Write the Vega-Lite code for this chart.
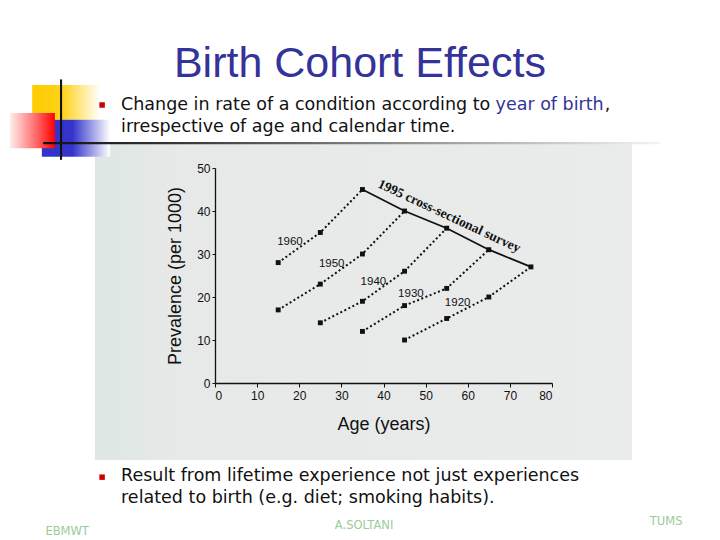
{
  "$schema": "https://vega.github.io/schema/vega-lite/v6.json",
  "width": 337,
  "height": 215,
  "autosize": {"type": "none"},
  "padding": {"left": 215, "top": 168, "right": 168, "bottom": 157},
  "background": "white",
  "view": {"stroke": null},
  "config": {"font": "Liberation Sans"},
  "encoding": {
    "x": {"field": "x", "type": "quantitative", "scale": {"domain": [0, 80], "nice": false},
      "axis": {"title": "Age (years)", "zindex": 1, "values": [0, 10, 20, 30, 40, 50, 60, 70, 80], "grid": false, "domainColor": "#111111", "domainWidth": 1.3, "tickColor": "#111111", "tickSize": 4, "labelFontSize": 12, "labelColor": "#111111", "labelPadding": 3, "titleFontSize": 18, "titleFontWeight": "normal", "titleColor": "#111111", "titlePadding": 14}},
    "y": {"field": "y", "type": "quantitative", "scale": {"domain": [0, 50], "nice": false},
      "axis": {"title": "Prevalence (per 1000)", "zindex": 1, "values": [0, 10, 20, 30, 40, 50], "grid": false, "domainColor": "#111111", "domainWidth": 1.3, "tickColor": "#111111", "tickSize": 3, "labelFontSize": 12, "labelColor": "#111111", "labelPadding": 2, "titleFontSize": 18, "titleFontWeight": "normal", "titleColor": "#111111", "titlePadding": 12}}
  },
  "layer": [
    {
      "data": {"values": [{"x": -28.5, "x2": 99.0, "y": 55.6, "y2": -17.9}]},
      "mark": {"type": "rect", "fill": {"gradient": "linear", "x1": 0, "y1": 0, "x2": 1, "y2": 0, "stops": [{"offset": 0, "color": "#dde7e3"}, {"offset": 0.15, "color": "#e7e9e8"}, {"offset": 1, "color": "#eaebeb"}]}},
      "encoding": {"x2": {"field": "x2"}, "y2": {"field": "y2"}}
    },
    {
      "data": {"values": [{"x": -43.4, "x2": -27.3, "y": 69.3, "y2": 61.2}]},
      "mark": {"type": "rect", "fill": {"gradient": "linear", "x1": 0, "y1": 0, "x2": 1, "y2": 0, "stops": [{"offset": 0, "color": "#ffcc00"}, {"offset": 0.45, "color": "#ffd21a"}, {"offset": 1, "color": "#ffffff"}]}},
      "encoding": {"x2": {"field": "x2"}, "y2": {"field": "y2"}}
    },
    {
      "data": {"values": [{"x": -41.1, "x2": -24.9, "y": 61.2, "y2": 52.6}]},
      "mark": {"type": "rect", "fill": {"gradient": "linear", "x1": 0, "y1": 0, "x2": 1, "y2": 0, "stops": [{"offset": 0, "color": "#3333cc"}, {"offset": 0.45, "color": "#3535cc"}, {"offset": 1, "color": "#ffffff"}]}},
      "encoding": {"x2": {"field": "x2"}, "y2": {"field": "y2"}}
    },
    {
      "data": {"values": [{"x": -48.7, "x2": -38.0, "y": 62.8, "y2": 54.6}]},
      "mark": {"type": "rect", "fill": {"gradient": "linear", "x1": 0, "y1": 0, "x2": 1, "y2": 0, "stops": [{"offset": 0, "color": "#ffeeee"}, {"offset": 0.6, "color": "#ff6666"}, {"offset": 1, "color": "#ff0000"}]}},
      "encoding": {"x2": {"field": "x2"}, "y2": {"field": "y2"}}
    },
    {
      "data": {"values": [{"x": -36.8, "x2": -36.3, "y": 70.6, "y2": 51.9}]},
      "mark": {"type": "rect", "fill": "#111111"},
      "encoding": {"x2": {"field": "x2"}, "y2": {"field": "y2"}}
    },
    {
      "data": {"values": [{"x": -40.8, "x2": 105.6, "y": 56.05, "y2": 55.55}]},
      "mark": {"type": "rect", "fill": {"gradient": "linear", "x1": 0, "y1": 0, "x2": 1, "y2": 0, "stops": [{"offset": 0, "color": "#111111"}, {"offset": 0.2, "color": "#333333"}, {"offset": 1, "color": "#f4f4f4"}]}},
      "encoding": {"x2": {"field": "x2"}, "y2": {"field": "y2"}}
    },
    {
      "data": {"values": [
        {"cohort": "1960", "x": 15, "y": 28}, {"cohort": "1960", "x": 25, "y": 35}, {"cohort": "1960", "x": 35, "y": 45},
        {"cohort": "1950", "x": 15, "y": 17}, {"cohort": "1950", "x": 25, "y": 23}, {"cohort": "1950", "x": 35, "y": 30}, {"cohort": "1950", "x": 45, "y": 40},
        {"cohort": "1940", "x": 25, "y": 14}, {"cohort": "1940", "x": 35, "y": 19}, {"cohort": "1940", "x": 45, "y": 26}, {"cohort": "1940", "x": 55, "y": 36},
        {"cohort": "1930", "x": 35, "y": 12}, {"cohort": "1930", "x": 45, "y": 18}, {"cohort": "1930", "x": 55, "y": 22}, {"cohort": "1930", "x": 65, "y": 31},
        {"cohort": "1920", "x": 45, "y": 10}, {"cohort": "1920", "x": 55, "y": 15}, {"cohort": "1920", "x": 65, "y": 20}, {"cohort": "1920", "x": 75, "y": 27}
      ]},
      "layer": [
        {
          "mark": {"type": "line", "color": "#111111", "strokeWidth": 2, "strokeDash": [2, 2.5]},
          "encoding": {"detail": {"field": "cohort"}, "order": {"field": "x"}}
        },
        {
          "mark": {"type": "square", "color": "#111111", "filled": true, "size": 24, "opacity": 1}
        }
      ]
    },
    {
      "data": {"values": [
        {"x": 35, "y": 45}, {"x": 45, "y": 40}, {"x": 55, "y": 36}, {"x": 65, "y": 31}, {"x": 75, "y": 27}
      ]},
      "mark": {"type": "line", "color": "#111111", "strokeWidth": 1.8}
    },
    {
      "data": {"values": [
        {"t": "1960", "x": 17.8, "y": 32.9}, {"t": "1950", "x": 27.7, "y": 27.7}, {"t": "1940", "x": 37.6, "y": 23.6}, {"t": "1930", "x": 46.5, "y": 20.8}, {"t": "1920", "x": 57.6, "y": 18.6}
      ]},
      "mark": {"type": "text", "fontSize": 11.5, "color": "#111111", "baseline": "middle", "align": "center"},
      "encoding": {"text": {"field": "t"}}
    },
    {
      "data": {"values": [{"t": "1995 cross-sectional survey", "x": 55.6, "y": 38.8}]},
      "mark": {"type": "text", "font": "Liberation Serif", "fontWeight": "bold", "fontSize": 13.5, "angle": 25, "color": "#111111", "baseline": "middle", "align": "center"},
      "encoding": {"text": {"field": "t"}}
    },
    {
      "data": {"values": [{"t": "Birth Cohort Effects", "x": 34.4, "y": 71.2}]},
      "mark": {"type": "text", "fontSize": 43, "color": "#333399", "baseline": "alphabetic", "align": "center"},
      "encoding": {"text": {"field": "t"}}
    },
    {
      "data": {"values": [{"x": -26.8, "y": 64.65}, {"x": -26.8, "y": -21.9}]},
      "mark": {"type": "square", "color": "#cc0000", "filled": true, "size": 30, "opacity": 1}
    },
    {
      "data": {"values": [
        {"t": "Change in rate of a condition according to", "x": -22.3, "y": 63.5},
        {"t": ",", "x": 92.5, "y": 63.5},
        {"t": "irrespective of age and calendar time.", "x": -22.3, "y": 58.4},
        {"t": "Result from lifetime experience not just experiences", "x": -22.3, "y": -22.8},
        {"t": "related to birth (e.g. diet; smoking habits).", "x": -22.3, "y": -27.9}
      ]},
      "mark": {"type": "text", "font": "DejaVu Sans", "fontSize": 17.5, "color": "#111111", "baseline": "alphabetic", "align": "left"},
      "encoding": {"text": {"field": "t"}}
    },
    {
      "data": {"values": [{"t": "year of birth", "x": 66.6, "y": 63.5}]},
      "mark": {"type": "text", "font": "DejaVu Sans", "fontSize": 17.5, "color": "#333399", "baseline": "alphabetic", "align": "left"},
      "encoding": {"text": {"field": "t"}}
    },
    {
      "data": {"values": [
        {"t": "EBMWT", "x": -35.1, "y": -35.3},
        {"t": "A.SOLTANI", "x": 35.4, "y": -33.9},
        {"t": "TUMS", "x": 107.1, "y": -33.0}
      ]},
      "mark": {"type": "text", "font": "DejaVu Sans", "fontSize": 11.5, "color": "#99cc99", "baseline": "alphabetic", "align": "center"},
      "encoding": {"text": {"field": "t"}}
    }
  ]
}
